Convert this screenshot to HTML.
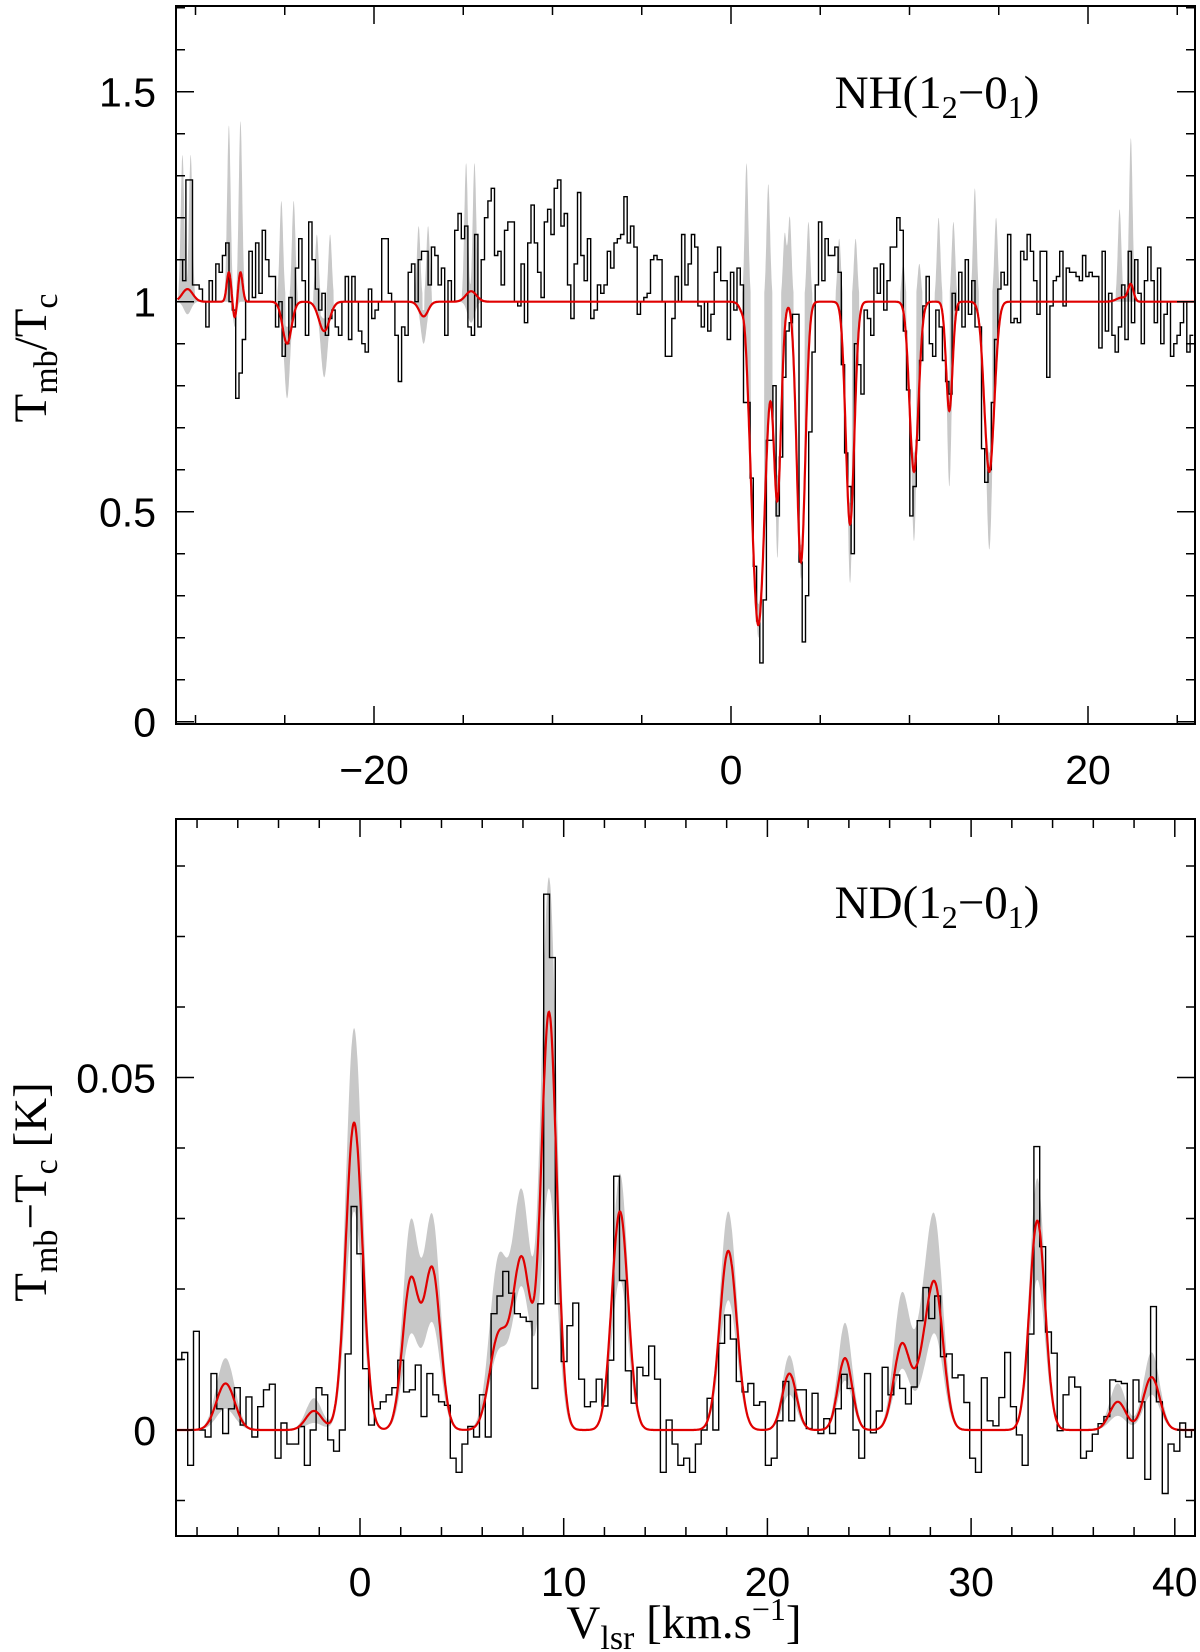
<!DOCTYPE html>
<html><head><meta charset="utf-8"><title>NH / ND spectra</title>
<style>
html,body{margin:0;padding:0;background:#fff;}
svg{display:block;}
.tl{font-family:"Liberation Sans",sans-serif;font-size:41px;fill:#000;}
.tt{font-family:"Liberation Serif",serif;font-size:47px;fill:#000;}
</style></head>
<body>
<svg id="chart" width="1200" height="1652" viewBox="0 0 1200 1652" xmlns="http://www.w3.org/2000/svg">
<defs>
<clipPath id="clipTop"><rect x="176" y="6" width="1019" height="718"/></clipPath>
<clipPath id="clipBot"><rect x="176" y="819" width="1019" height="717"/></clipPath>
</defs>
<g id="topPanel">
  <g id="topGray" clip-path="url(#clipTop)"></g>
  <g id="topData" clip-path="url(#clipTop)"></g>
  <g id="topModel" clip-path="url(#clipTop)"></g>
  <rect x="176" y="6" width="1019" height="718" fill="none" stroke="#000" stroke-width="2"/>
  <g id="topTicks"></g>
  <text class="tt" x="937" y="108" text-anchor="middle">NH(1<tspan font-size="32" dy="10">2</tspan><tspan dy="-10">−0</tspan><tspan font-size="32" dy="10">1</tspan><tspan dy="-10">)</tspan></text>
  <text class="tt" transform="translate(46,358) rotate(-90)" text-anchor="middle">T<tspan font-size="34" dy="11">mb</tspan><tspan dy="-11">/T</tspan><tspan font-size="34" dy="11">c</tspan></text>
</g>
<g id="botPanel">
  <g id="botGray" clip-path="url(#clipBot)"></g>
  <g id="botData" clip-path="url(#clipBot)"></g>
  <g id="botModel" clip-path="url(#clipBot)"></g>
  <rect x="176" y="819" width="1019" height="717" fill="none" stroke="#000" stroke-width="2"/>
  <g id="botTicks"></g>
  <text class="tt" x="937" y="918" text-anchor="middle">ND(1<tspan font-size="32" dy="10">2</tspan><tspan dy="-10">−0</tspan><tspan font-size="32" dy="10">1</tspan><tspan dy="-10">)</tspan></text>
  <text class="tt" transform="translate(46,1192) rotate(-90)" text-anchor="middle">T<tspan font-size="34" dy="11">mb</tspan><tspan dy="-11">−T</tspan><tspan font-size="34" dy="11">c</tspan><tspan dy="-11"> [K]</tspan></text>
  <text class="tt" x="684" y="1638" text-anchor="middle">V<tspan font-size="34" dy="11">lsr</tspan><tspan dy="-11"> [km.s</tspan><tspan font-size="32" dy="-18">−1</tspan><tspan dy="18">]</tspan></text>
</g>
</svg>
<script>
// ---------- NH panel data (two contiguous segments of the same spectrum) ----------
const topV0a = -30.91;
const topWa = 0.1859;
const topValsA = [1.10,1.05,1.29,1.29,1.04,1.04,1.03,1.00,0.94,1.05,1.00,1.09,1.07,1.11,1.14,1.00,0.98,0.77,0.83,0.91,
1.00,1.12,1.01,1.14,1.02,1.17,1.10,1.06,1.06,0.94,1.00,0.87,0.90,1.01,0.94,1.08,1.15,1.05,0.92,1.19,
1.10,1.03,0.98,1.02,0.92,0.96,0.98,0.94,0.92,1.00,1.06,0.91,1.06,1.00,0.93,0.90,0.88,1.03,0.96,0.98,
1.00,1.15,1.15,1.02,1.00,0.92,0.81,0.94,0.92,1.07,1.09,1.00,1.10,1.12,1.12,1.04,1.13,1.11,1.04,1.08,
0.92,1.05,1.00,1.17,1.21,1.15,1.18,0.94,0.92,1.16,0.94,1.10,1.20,1.24,1.27,1.11,1.12,1.04,1.17,1.19,
1.19,1.00,0.99,1.09,0.95,1.14,1.23,1.14,1.07,1.01,1.19,1.22,1.16,1.27,1.29,1.18,1.21,1.04,0.96,1.09,
1.26,1.11,1.05,1.15,0.96,0.98,1.04,1.02,1.04,1.12,1.08,1.14,1.15,1.16,1.25,1.14,1.18,1.13,0.97,1.00,
1.01,1.02,1.10,1.11,1.10];
const topV0b = -4.045;
const topWb = 0.1826;
const topValsB = [1.10,1.00,0.87,0.87,0.96,1.06,1.00,1.16,1.04,1.09,1.16,1.13,0.99,0.94,1.00,0.93,0.97,1.07,1.13,1.05,
1.05,0.91,1.07,0.98,1.08,1.04,0.76,0.76,0.58,0.37,0.24,0.14,0.29,0.67,0.67,0.80,0.49,0.63,0.82,0.93,
0.95,0.97,0.97,0.38,0.19,0.30,0.69,0.88,1.04,1.19,1.05,1.15,1.11,1.11,1.13,1.07,0.85,0.64,0.56,0.40,
0.90,0.85,0.78,0.98,0.96,0.92,1.08,1.02,1.09,0.98,1.05,1.13,1.13,1.20,1.17,0.93,0.79,0.49,0.56,0.67,
0.86,0.99,1.06,0.90,0.87,0.98,0.94,0.86,0.81,0.78,1.02,0.98,1.07,0.94,1.10,0.97,1.05,0.94,0.94,0.65,
0.57,0.60,0.76,0.91,1.03,1.07,1.04,1.16,0.95,0.96,0.95,1.12,1.10,1.16,1.12,1.05,0.97,1.12,1.12,0.82,
0.99,1.05,1.06,1.12,0.99,1.08,1.07,1.07,1.06,1.05,1.11,1.06,1.07,1.06,1.06,0.89,1.12,0.93,1.02,0.92,
0.88,0.94,1.04,0.91,
1.12,0.95,1.10,1.02,0.90,1.05,1.13,1.05,0.95,1.08,0.90,0.97,1.00,0.87,0.90,0.92,0.95,1.00,0.88,0.92];
// model components (signed amplitude relative to continuum 1)
const topCompV = [-30.45,-28.13,-27.8,-27.48,-24.87,-22.79,-17.22,-14.56,0.78,1.53,2.60,3.92,6.67,10.25,12.23,14.47,21.9,22.4];
const topCompA = [0.03,0.07,-0.04,0.07,-0.10,-0.07,-0.035,0.025,0.035,-0.77,-0.46,-0.62,-0.53,-0.405,-0.26,-0.405,0.01,0.04];
const topCompS = [0.3,0.12,0.1,0.12,0.25,0.3,0.25,0.3,0.12,0.38,0.21,0.24,0.24,0.25,0.18,0.28,0.3,0.15];
// grey envelope: upward spikes
const topUpV = [-30.73,-30.27,-28.13,-27.48,-25.19,-24.5,-23.2,-22.46,-17.5,-16.97,-14.84,-14.37,0.87,2.09,3.01,3.29,4.34,6.06,6.98,9.65,10.55,11.63,12.46,13.66,14.85,21.77,22.4];
const topUpH = [0.35,0.35,0.42,0.43,0.24,0.24,0.16,0.16,0.18,0.18,0.33,0.33,0.33,0.28,0.16,0.20,0.19,0.15,0.15,0.09,0.09,0.20,0.19,0.27,0.20,0.22,0.39];
// grey envelope: absorption components (deep and shallow limits)
const topDnV = [-30.45,-27.8,-24.87,-22.79,-17.22,-14.56,1.53,2.60,3.92,6.67,10.25,12.23,14.47];
const topDnD = [0.03,0.06,0.23,0.18,0.10,0.05,0.80,0.61,0.66,0.67,0.57,0.44,0.59];
const topDnS = [0.2,0.1,0.17,0.2,0.17,0.2,0.26,0.14,0.16,0.16,0.16,0.13,0.19];
const topShD = [0,0.02,0.06,0.04,0.02,0,0.72,0.40,0.58,0.48,0.36,0.22,0.36];
const topShS = [0.3,0.1,0.25,0.3,0.25,0.3,0.38,0.21,0.24,0.24,0.25,0.18,0.28];

// ---------- ND panel data ----------
const botV0 = -9.033;
const botW = 0.2865;
const botVals = [0.010,0.011,-0.005,0.014,0.000,-0.001,0.008,0.003,-0.0005,0.003,0.006,0.0007,0.0047,-0.001,0.0033,0.0057,0.0065,-0.004,0.001,-0.002,
-0.002,0.0005,-0.005,0.000,0.006,0.005,-0.0014,-0.003,0.000,0.0108,0.0317,0.025,0.0087,0.0007,0.003,0.004,0.005,0.006,0.0099,0.0054,
0.0057,0.0092,0.0019,0.008,0.005,0.004,0.0035,-0.004,-0.006,-0.002,0.0005,-0.001,0.005,-0.001,0.0165,0.019,0.0225,0.0194,0.0165,0.016,
0.0154,0.0059,0.0179,0.076,0.067,0.0179,0.0097,0.0148,0.018,0.0072,0.0033,0.004,0.0072,0.0034,0.0099,0.036,0.0212,0.0084,0.0038,0.0089,
0.0077,0.0119,0.0072,
-0.006,0.0014,-0.002,-0.005,-0.004,-0.006,-0.002,0.000,0.0045,0.000,0.0123,0.0163,0.0129,0.0069,0.0054,0.0066,0.0035,0.004,-0.005,-0.004,
0.0013,0.0069,0.0013,0.0057,0.0057,0.0002,0.0052,-0.0005,0.0016,-0.0005,0.003,0.0079,0.0059,0.000,-0.004,0.008,-0.0004,0.0027,0.0089,0.005,
0.0078,0.0059,0.0037,0.0061,0.0155,0.0202,0.0158,0.019,0.0104,0.0108,0.0074,0.0078,0.0039,-0.004,-0.006,0.0074,0.0013,0.0006,0.0046,0.011,
0.0033,-0.0007,-0.005,0.0136,0.0402,0.026,0.0139,0.0109,-0.0001,0.005,0.0075,0.0061,-0.004,-0.003,-0.0006,0.0009,0.0019,0.0071,0.0069,0.0066,
-0.004,0.0071,
0.004,-0.007,0.0175,0.004,-0.009,-0.002,-0.003,0.001,-0.001,0.000];
const botCompV = [-6.6,-2.26,-0.29,2.49,3.55,6.8,7.94,9.28,12.76,18.08,21.08,23.81,26.6,27.6,28.25,33.25,37.2,38.86];
const botCompA = [0.0066,0.0027,0.0436,0.021,0.0225,0.013,0.024,0.059,0.031,0.0254,0.008,0.0102,0.012,0.007,0.019,0.0297,0.004,0.0075];
const botCompS = [0.45,0.4,0.41,0.4,0.4,0.45,0.45,0.38,0.4,0.42,0.35,0.35,0.4,0.4,0.4,0.38,0.4,0.4];
const botHiA = [0.0102,0.0045,0.057,0.029,0.0298,0.0236,0.0331,0.078,0.0364,0.031,0.0106,0.0152,0.019,0.012,0.027,0.0357,0.0066,0.011];
const botLoA = [0.003,0.001,0.031,0.0132,0.0149,0.0106,0.0199,0.034,0.0213,0.0184,0.005,0.007,0.0085,0.004,0.0125,0.0213,0.002,0.005];

// tick label arrays
const topYTicks = ["0","0.5","1","1.5"];
const topYTickVals = [0,0.5,1,1.5];
const topXTicks = ["−20","0","20"];
const topXTickVals = [-20,0,20];
const botYTicks = ["0","0.05"];
const botYTickVals = [0,0.05];
const botXTicks = ["0","10","20","30","40"];
const botXTickVals = [0,10,20,30,40];

// ---------- axes ----------
const X1 = v => 731 + 17.85*v;
const Y1 = t => 721.7 - 420*t;
const X2 = v => 360 + 20.37*v;
const Y2 = t => 1430 - 7050*t;
const NS = "http://www.w3.org/2000/svg";
const g = (v,c,s) => Math.exp(-0.5*((v-c)/s)*((v-c)/s));

function mk(tag, attrs, parent){
  const e = document.createElementNS(NS, tag);
  for (const k in attrs) e.setAttribute(k, attrs[k]);
  parent.appendChild(e);
  return e;
}
function stepPath(v0,w,vals,X,Y,cont){
  let d="";
  for(let i=0;i<vals.length;i++){
    const x0=X(v0+i*w), x1=X(v0+(i+1)*w), y=Y(vals[i]);
    d += (i===0 && !cont ? "M"+x0.toFixed(1)+" "+y.toFixed(1) : (i===0?"H"+x0.toFixed(1):"")+"V"+y.toFixed(1)) + "H"+x1.toFixed(1);
  }
  return d;
}

// ---------- NH panel ----------
(function(){
  const vmin=-31, vmax=26, dv=0.015;
  const model = v => { let s=1; for(let i=0;i<topCompV.length;i++) s+=topCompA[i]*g(v,topCompV[i],topCompS[i]); return s; };
  let up=[], lo=[], line="";
  for(let v=vmin; v<=vmax; v+=dv){
    const m=model(v);
    let sh=1; for(let i=0;i<topDnV.length;i++) sh-=topShD[i]*g(v,topDnV[i],topShS[i]);
    let spk=0; for(let i=0;i<topUpV.length;i++) spk+=topUpH[i]*g(v,topUpV[i],0.1);
    let l=1; for(let i=0;i<topDnV.length;i++) l-=topDnD[i]*g(v,topDnV[i],topDnS[i]);
    let u=Math.max(sh,m);
    if (spk>0.02) u=Math.max(u,1+spk);
    l=Math.min(l,m);
    up.push(X1(v).toFixed(1)+","+Y1(u).toFixed(1));
    lo.push(X1(v).toFixed(1)+","+Y1(l).toFixed(1));
    line += (line?"L":"M")+X1(v).toFixed(1)+" "+Y1(m).toFixed(1);
  }
  const gp = mk("polygon",{points:up.concat(lo.reverse()).join(" "),fill:"#c8c8c8",stroke:"none"},document.getElementById("topGray"));
  
  
  const d = stepPath(topV0a,topWa,topValsA,X1,Y1,false) + stepPath(topV0b,topWb,topValsB,X1,Y1,true);
  const dp = mk("path",{d:d,fill:"none",stroke:"#000","stroke-width":"1.4"},document.getElementById("topData"));
  
  
  const mp = mk("path",{d:line,fill:"none",stroke:"#e00000","stroke-width":"2.2"},document.getElementById("topModel"));
  
  

  const tk=document.getElementById("topTicks");
  let t="";
  for(let k=0;k<=17;k++){ const y=Y1(k/10); const L=(k%5===0)?18:9; t+="M176 "+y+"h"+L+"M1195 "+y+"h-"+L; }
  for(let v=-30; v<=25; v+=5){ const x=X1(v); const L=(v%20===0)?18:9; t+="M"+x+" 724v-"+L+"M"+x+" 6v"+L; }
  const tp=mk("path",{d:t,stroke:"#000","stroke-width":"1.5",fill:"none"},tk);
  
  
  for(let i=0;i<topYTicks.length;i++){
    const e=mk("text",{x:156,y:Y1(topYTickVals[i])+15,"text-anchor":"end",class:"tl"},tk);
    e.textContent=topYTicks[i];
    
    
  }
  for(let i=0;i<topXTicks.length;i++){
    const e=mk("text",{x:X1(topXTickVals[i]),y:784,"text-anchor":"middle",class:"tl"},tk);
    e.textContent=topXTicks[i];
    
    
  }
})();

// ---------- ND panel ----------
(function(){
  const vmin=-9.5, vmax=41.5, dv=0.02;
  const sum = (v,A) => { let s=0; for(let i=0;i<botCompV.length;i++) s+=A[i]*g(v,botCompV[i],botCompS[i]); return s; };
  let up=[], lo=[], line="";
  for(let v=vmin; v<=vmax; v+=dv){
    const m=sum(v,botCompA);
    const u=Math.max(m,sum(v,botHiA)), l=Math.min(m,sum(v,botLoA));
    up.push(X2(v).toFixed(1)+","+Y2(u).toFixed(1));
    lo.push(X2(v).toFixed(1)+","+Y2(l).toFixed(1));
    line += (line?"L":"M")+X2(v).toFixed(1)+" "+Y2(m).toFixed(1);
  }
  const gp = mk("polygon",{points:up.concat(lo.reverse()).join(" "),fill:"#c8c8c8",stroke:"none"},document.getElementById("botGray"));
  
  
  const dp = mk("path",{d:stepPath(botV0,botW,botVals,X2,Y2,false),fill:"none",stroke:"#000","stroke-width":"1.4"},document.getElementById("botData"));
  
  
  const mp = mk("path",{d:line,fill:"none",stroke:"#e00000","stroke-width":"2.2"},document.getElementById("botModel"));
  
  

  const tk=document.getElementById("botTicks");
  let t="";
  for(let k=-1;k<=8;k++){ const y=Y2(k/100); const L=(k%5===0)?18:9; t+="M176 "+y+"h"+L+"M1195 "+y+"h-"+L; }
  for(let v=-8; v<=40; v+=2){ const x=X2(v); const L=(v%10===0)?18:9; t+="M"+x+" 1536v-"+L+"M"+x+" 819v"+L; }
  const tp=mk("path",{d:t,stroke:"#000","stroke-width":"1.5",fill:"none"},tk);
  
  
  for(let i=0;i<botYTicks.length;i++){
    const e=mk("text",{x:156,y:Y2(botYTickVals[i])+15,"text-anchor":"end",class:"tl"},tk);
    e.textContent=botYTicks[i];
    
    
  }
  for(let i=0;i<botXTicks.length;i++){
    const e=mk("text",{x:X2(botXTickVals[i]),y:1596,"text-anchor":"middle",class:"tl"},tk);
    e.textContent=botXTicks[i];
    
    
  }
})();
</script>
</body></html>
